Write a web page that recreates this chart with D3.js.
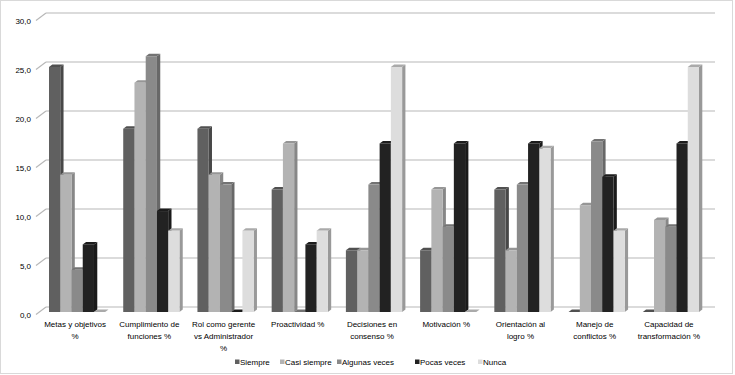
<!DOCTYPE html>
<html>
<head>
<meta charset="utf-8">
<script src="https://cdnjs.cloudflare.com/ajax/libs/d3/7.8.5/d3.min.js"></script>
<style>
  body { margin: 0; background: #fff; }
  text { font-family: "Liberation Sans", Arial, sans-serif; font-size: 8px; fill: #000; }
</style>
</head>
<body>
<script>
var categories = [
  ["Metas y objetivos", "%"],
  ["Cumplimiento de", "funciones %"],
  ["Rol como gerente", "vs Administrador", "%"],
  ["Proactividad %"],
  ["Decisiones en", "consenso %"],
  ["Motivación %"],
  ["Orientación al", "logro %"],
  ["Manejo de", "conflictos %"],
  ["Capacidad de", "transformación %"]
];
var seriesNames = ["Siempre", "Casi siempre", "Algunas veces", "Pocas veces", "Nunca"];
var siempre      = [25.0, 18.7, 18.7, 12.5, 6.3, 6.3, 12.5, 0, 0];
var casiSiempre  = [14.0, 23.4, 14.0, 17.2, 6.3, 12.5, 6.3, 10.9, 9.4];
var algunasVeces = [4.3, 26.1, 13.0, 0, 13.0, 8.7, 13.0, 17.4, 8.7];
var pocasVeces   = [6.9, 10.3, 0, 6.9, 17.2, 17.2, 17.2, 13.8, 17.2];
var nunca        = [0, 8.3, 8.3, 8.3, 25.0, 0, 16.7, 8.3, 25.0];
var yTicks = [0, 5, 10, 15, 20, 25, 30];
var colors = ["#606060", "#b3b3b3", "#8a8a8a", "#222222", "#dddddd"];

var allSeries = [siempre, casiSiempre, algunasVeces, pocasVeces, nunca];
var W = 735, H = 375;

var svg = d3.select("body").append("svg")
  .attr("width", W).attr("height", H);

// outer frame
svg.append("rect")
  .attr("x", 0.5).attr("y", 0.5).attr("width", 732).attr("height", 373)
  .attr("fill", "none").attr("stroke", "#d9d9d9");

var y = d3.scaleLinear().domain([0, 30]).range([314.5, 20.5]);
var wallDx = 10, wallDy = 7.5;
var frontLeft = 36, backRight = 715;

// gridlines on back wall + diagonals
var grid = svg.append("g");
yTicks.forEach(function(t) {
  var yy = y(t);
  grid.append("line")
    .attr("x1", frontLeft).attr("y1", yy)
    .attr("x2", frontLeft + wallDx).attr("y2", yy - wallDy)
    .attr("stroke", "#b8b8b8").attr("stroke-width", 1.2);
  grid.append("line")
    .attr("x1", frontLeft + wallDx).attr("y1", yy - wallDy)
    .attr("x2", backRight).attr("y2", yy - wallDy)
    .attr("stroke", "#b8b8b8").attr("stroke-width", 1.2);
  svg.append("text")
    .attr("x", 31).attr("y", yy + 3)
    .attr("text-anchor", "end")
    .text(d3.format(".1f")(t).replace(".", ","));
});

var x0 = d3.scaleBand().domain(d3.range(categories.length)).range([40, 708]);
var x1 = d3.scaleBand().domain(d3.range(seriesNames.length))
  .range([9, x0.bandwidth() - 9]);

var dx = 3.3, dy = 2.5, lift = 2.5;
var bars = svg.append("g");
categories.forEach(function(c, i) {
  allSeries.forEach(function(s, j) {
    var v = s[i];
    var xl = x0(i) + x1(j), w = x1.bandwidth();
    var yt = y(v) - lift, yb = y(0) - lift;
    var col = d3.color(colors[j]);
    var sideCol = j === 4 ? "#999999" : col.darker(0.8);
    var topCol = j === 4 ? "#aaaaaa" : col.darker(0.5);
    // side
    bars.append("path")
      .attr("d", "M" + (xl + w) + "," + yb + "L" + (xl + w + dx) + "," + (yb - dy) +
        "L" + (xl + w + dx) + "," + (yt - dy) + "L" + (xl + w) + "," + yt + "Z")
      .attr("fill", sideCol);
    // top
    bars.append("path")
      .attr("d", "M" + xl + "," + yt + "L" + (xl + dx) + "," + (yt - dy) +
        "L" + (xl + w + dx) + "," + (yt - dy) + "L" + (xl + w) + "," + yt + "Z")
      .attr("fill", topCol);
    // front
    bars.append("rect")
      .attr("x", xl).attr("y", yt)
      .attr("width", w).attr("height", yb - yt)
      .attr("fill", colors[j]);
  });
});

// category labels
categories.forEach(function(c, i) {
  var t = svg.append("text")
    .attr("x", x0(i) + x0.bandwidth() / 2 - 2)
    .attr("y", 327)
    .attr("text-anchor", "middle");
  c.forEach(function(line, k) {
    t.append("tspan")
      .attr("x", x0(i) + x0.bandwidth() / 2 - 2)
      .attr("dy", k === 0 ? 0 : 12)
      .text(line);
  });
});

// legend
var legendX = [235, 280, 337, 415, 478];
var legend = svg.append("g");
seriesNames.forEach(function(n, j) {
  legend.append("rect")
    .attr("x", legendX[j]).attr("y", 359.5)
    .attr("width", 4.5).attr("height", 4.5)
    .attr("fill", colors[j]);
  legend.append("text")
    .attr("x", legendX[j] + 5).attr("y", 365)
    .text(n);
});
</script>
</body>
</html>
